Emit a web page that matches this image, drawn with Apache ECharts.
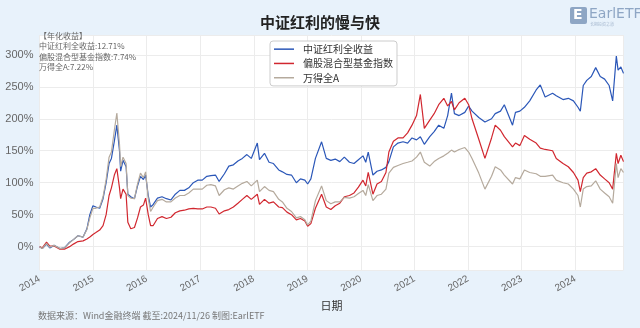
<!DOCTYPE html>
<html><head><meta charset="utf-8">
<script src="https://cdn.jsdelivr.net/npm/echarts@6/dist/echarts.min.js"></script>
<style>html,body{margin:0;padding:0;background:#e8f2fb;} #c{width:640px;height:328px;}</style>
</head><body><div id="c"></div>
<script>
const dates = ['2014-01-02','2014-01-20','2014-02-18','2014-03-12','2014-04-10','2014-05-20','2014-06-20','2014-07-25','2014-08-20','2014-09-20','2014-10-25','2014-11-20','2014-12-10','2014-12-31',
'2015-01-20','2015-02-15','2015-03-10','2015-03-31','2015-04-20','2015-05-06','2015-05-26','2015-06-12','2015-06-30','2015-07-08','2015-07-24','2015-08-14','2015-08-26','2015-09-15','2015-10-10','2015-10-31','2015-11-20','2015-12-10','2015-12-25',
'2016-01-12','2016-01-28','2016-02-15','2016-03-15','2016-04-15','2016-05-15','2016-06-15','2016-07-15','2016-08-15','2016-09-15','2016-10-15','2016-11-15','2016-12-15',
'2017-01-15','2017-02-15','2017-03-15','2017-04-15','2017-05-10','2017-06-15','2017-07-15','2017-08-15','2017-09-15','2017-10-15','2017-11-15','2017-12-15',
'2018-01-25','2018-02-09','2018-03-15','2018-04-15','2018-05-15','2018-06-20','2018-07-15','2018-08-15','2018-09-15','2018-10-18','2018-11-15','2018-12-15',
'2019-01-03','2019-01-25','2019-02-25','2019-04-08','2019-05-10','2019-06-10','2019-07-10','2019-08-10','2019-09-10','2019-10-15','2019-11-15','2019-12-15',
'2020-01-15','2020-02-03','2020-02-20','2020-03-23','2020-04-20','2020-05-20','2020-06-20','2020-07-10','2020-08-10','2020-09-10','2020-10-15','2020-11-15','2020-12-15',
'2021-01-15','2021-02-10','2021-03-09','2021-04-15','2021-05-15','2021-06-15','2021-07-20','2021-08-15','2021-09-10','2021-09-30','2021-11-01','2021-12-10',
'2022-01-05','2022-01-28','2022-03-15','2022-04-26','2022-06-10','2022-07-05','2022-08-10','2022-09-05','2022-10-31','2022-11-20','2022-12-20',
'2023-01-20','2023-02-25','2023-04-10','2023-05-08','2023-06-10','2023-07-31','2023-08-25','2023-10-10','2023-11-15','2023-12-20',
'2024-01-20','2024-02-05','2024-02-25','2024-03-20','2024-04-20','2024-05-20','2024-06-20','2024-07-20','2024-08-20','2024-09-13','2024-10-08','2024-10-20','2024-11-08','2024-11-26'];

const dividendTotal = [0,-3,4,-2,2,-3,-2,7,11,17,15,28,50,64,
62,60,75,100,130,138,165,190,150,118,135,125,82,78,75,95,110,105,112,
80,62,66,76,78,75,73,82,88,88,92,100,104,
104,110,111,112,102,114,126,128,134,138,144,138,
162,136,146,132,130,120,117,113,112,100,106,104,
98,106,138,164,138,135,137,133,140,132,130,136,
142,132,148,112,118,120,124,133,156,162,164,162,170,
167,172,160,172,180,190,185,205,240,208,205,210,
220,212,202,195,200,208,212,222,190,210,212,
218,228,245,253,234,240,236,230,232,228,
218,212,252,260,266,280,266,262,252,228,298,276,281,271];

const mixedFund = [0,-2,7,1,1,-4,-4,0,4,8,9,12,15,19,
22,26,33,50,80,92,112,122,92,75,90,82,38,28,30,45,62,65,76,
50,33,33,44,47,44,46,53,56,57,59,60,59,
59,62,62,60,51,56,58,62,68,74,80,74,
82,66,74,68,70,62,61,54,50,42,44,40,
32,36,60,82,62,58,64,68,78,80,84,93,
104,95,116,82,98,102,116,148,165,170,170,178,190,
205,238,185,198,208,222,232,220,227,214,225,232,
222,200,168,138,170,190,182,172,156,162,158,
174,168,162,154,152,150,138,130,125,116,
104,86,108,115,117,122,112,106,100,90,146,130,143,133];

const windA = [0,-3,5,-1,2,-3,-2,6,11,17,15,27,45,60,
60,62,78,105,140,148,182,209,160,125,140,130,80,76,75,98,115,108,117,
75,55,62,72,74,70,70,76,80,80,84,90,90,
90,96,97,95,80,89,92,90,95,99,102,95,
104,86,94,88,86,74,70,60,55,45,47,42,
34,40,72,95,72,67,70,70,77,76,78,83,
88,80,97,72,80,82,90,115,124,127,130,132,134,
140,148,132,126,133,138,142,146,151,148,152,155,
148,138,115,90,110,125,120,112,98,108,106,
120,116,114,110,110,112,104,100,98,90,
80,62,90,94,95,103,90,84,78,68,130,108,122,116];

const seriesNames = ['中证红利全收益','偏股混合型基金指数','万得全A'];
const notes = ['【年化收益】','中证红利全收益:12.71%','偏股混合型基金指数:7.74%','万得全A:7.22%'];
const titleText = '中证红利的慢与快';
const footText = '数据来源：Wind金融终端 截至:2024/11/26 制图:EarlETF';

function toYear(s){
  const p = s.split('-').map(Number);
  const a = Date.UTC(p[0],0,1), b = Date.UTC(p[0]+1,0,1);
  return p[0] + (Date.UTC(p[0],p[1]-1,p[2]) - a)/(b - a);
}
function pairs(vals){ return dates.map((d,i)=>[toYear(d), vals[i]]); }

const chart = echarts.init(document.getElementById('c'), null, {renderer:'canvas'});
const colors = ['#2b57b8','#d1272f','#b5aa9d'];
const noteGraphics = notes.map((t,i)=>({type:'text',left:39,top:32+i*10.4,z:100,
  style:{text:t,fontSize:8,fill:'#666',fontFamily:'Noto Sans CJK SC'}}));
chart.setOption({
  animation:false,
  backgroundColor:'#e8f2fb',
  title:{text:titleText,left:'center',top:10,textStyle:{fontSize:15,fontWeight:'bold',color:'#222',fontFamily:'Noto Sans CJK SC'}},
  grid:{left:39.5,right:16.5,top:35,bottom:58,show:true,backgroundColor:'#ffffff',borderWidth:0},
  legend:{orient:'vertical',left:270,top:41,padding:[2,4,2,4],icon:'rect',itemWidth:20,itemHeight:1.5,itemGap:2,
    backgroundColor:'#fff',borderColor:'#cccccc',borderWidth:1,borderRadius:3,
    textStyle:{fontSize:10,lineHeight:12.3,color:'#333',fontFamily:'Noto Sans CJK SC',padding:[0,0,0,4]},
    data:seriesNames},
  xAxis:{type:'value',min:2014,max:toYear('2024-11-26'),interval:1,
    name:'日期',nameLocation:'middle',nameGap:29,nameTextStyle:{fontSize:11,color:'#333',fontFamily:'Noto Sans CJK SC'},
    axisLine:{show:false},axisTick:{show:false},
    axisLabel:{rotate:30,fontSize:10,color:'#666',margin:8,
      formatter:v=>Math.abs(v-Math.round(v))<1e-6?String(Math.round(v)):''},
    splitLine:{show:true,lineStyle:{color:'#ececec',width:1}}},
  yAxis:{type:'value',min:-36.5,max:331,splitNumber:7,minInterval:50,maxInterval:50,
    axisLine:{show:false},axisTick:{show:false},
    axisLabel:{fontSize:11,color:'#666',margin:6,
      formatter:v=>Math.abs(v%50)<1e-6?v+'%':''},
    splitLine:{show:true,lineStyle:{color:'#ececec',width:1}}},
  series:[
    {name:seriesNames[0],type:'line',data:pairs(dividendTotal),symbol:'none',lineStyle:{width:1.2,color:colors[0]},itemStyle:{color:colors[0]}},
    {name:seriesNames[1],type:'line',data:pairs(mixedFund),symbol:'none',lineStyle:{width:1.2,color:colors[1]},itemStyle:{color:colors[1]}},
    {name:seriesNames[2],type:'line',data:pairs(windA),symbol:'none',lineStyle:{width:1.2,color:colors[2]},itemStyle:{color:colors[2]}}
  ],
  graphic:noteGraphics.concat([
    {type:'text',left:38,top:311,style:{text:footText,fontSize:9,fill:'#777',fontFamily:'Noto Sans CJK SC'}},
    {type:'group',left:570,top:7,children:[
      {type:'rect',shape:{x:0,y:0,width:17,height:17,r:2},style:{fill:'#8ea6c4'}},
      {type:'text',x:3,y:1,style:{text:'E',fontSize:14,fontWeight:'bold',fill:'#fff',fontFamily:'DejaVu Sans'}},
      {type:'text',x:19,y:0,style:{text:'EarlETF',fontSize:14,fill:'#8ea6c4',fontFamily:'DejaVu Sans'}},
      {type:'text',x:20,y:15,style:{text:'长期投资之道',fontSize:4,fill:'#a8bad0',fontFamily:'Noto Sans CJK SC'}}
    ]}
  ])
});
</script></body></html>
